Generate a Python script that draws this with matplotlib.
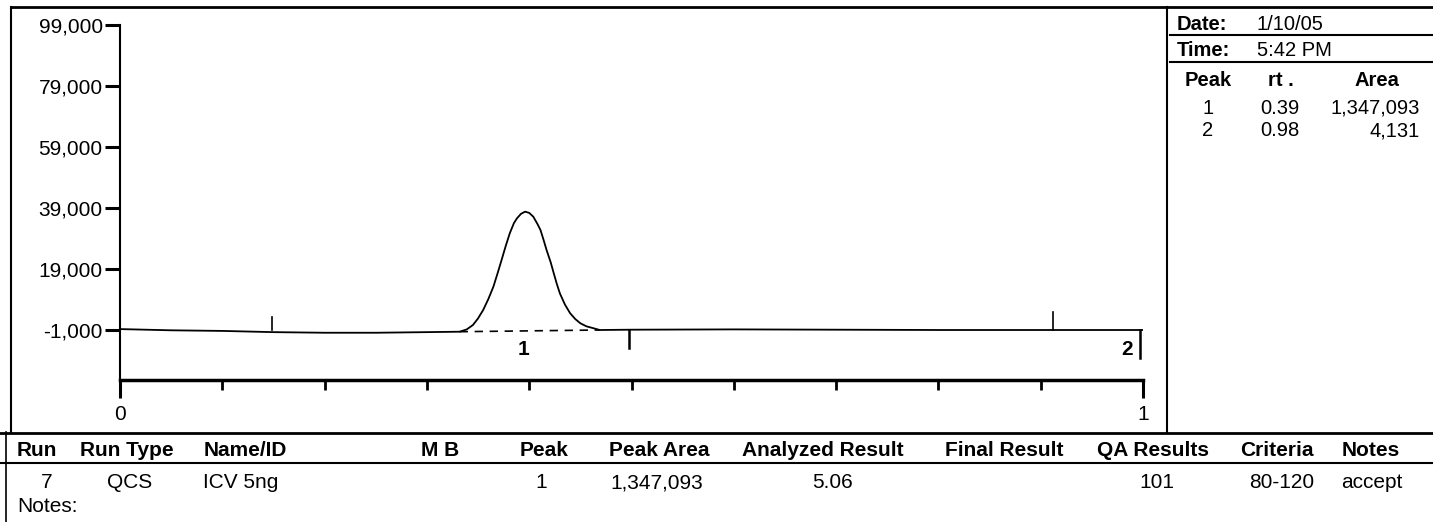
import matplotlib.pyplot as plt
from matplotlib.lines import Line2D

plt.rcParams['font.family'] = ['Liberation Sans', 'DejaVu Sans']

W, H = 1433, 522

# chromatogram trace (retention time, signal)
rt_min = [0.0, 0.05, 0.1, 0.15, 0.2, 0.25, 0.3, 0.332, 0.339, 0.345, 0.350, 0.355,
          0.360, 0.365, 0.369, 0.373, 0.377, 0.381, 0.385, 0.388, 0.392, 0.396,
          0.400, 0.404, 0.408, 0.411, 0.414, 0.417, 0.421, 0.424, 0.427, 0.430,
          0.435, 0.440, 0.445, 0.450, 0.456, 0.463, 0.469, 0.5, 0.6, 0.7, 0.8,
          0.9, 1.0]
signal = [-700, -1100, -1300, -1700, -1900, -1900, -1700, -1560, -800, 640, 2800, 5560,
          9100, 13200, 17500, 21950, 26500, 30700, 34000, 35600, 37100, 37800,
          37400, 36150, 33800, 31800, 28600, 25200, 21200, 17600, 14100, 11000,
          7300, 4500, 2600, 1200, 200, -440, -1000, -900, -800, -900, -1000,
          -1000, -1000]

# integration baseline under peak 1
base_x = [0.332, 0.469]
base_y = [-1560, -1000]

# peak start/end marks (position, end of the mark)
mark_x = [0.149, 0.498, 0.912, 0.997]
mark_end = [3300, -6900, 4900, -10200]

peak_no = [1, 2]
peak_rt = [0.39, 0.98]
peak_area = [1347093, 4131]
peak_label_x = [0.394, 0.990]

yticks = [-1000, 19000, 39000, 59000, 79000, 99000]

date_str = "1/10/05"
time_str = "5:42 PM"

headers = ["Run", "Run Type", "Name/ID", "M B", "Peak", "Peak Area",
           "Analyzed Result", "Final Result", "QA Results", "Criteria", "Notes"]
row = ["7", "QCS", "ICV 5ng", "", "1", "1,347,093", "5.06", "", "101", "80-120", "accept"]

fig = plt.figure(figsize=(W / 100, H / 100), dpi=100)


def fx(px):
    return px / W


def fy(py):
    return 1 - py / H


# main chromatogram axes: x 120..1143 px, y 25..380 px
ax = fig.add_axes([fx(120), fy(380), fx(1143) - fx(120), fy(25) - fy(380)])
ax.plot(rt_min, signal, color='black', lw=1.3)
ax.plot(base_x, base_y, color='black', lw=1.2, ls=(0, (5, 4)))
for mx, me in zip(mark_x, mark_end):
    ax.plot([mx, mx], [-1000, me], color='black', lw=1.2 if me > 0 else 1.8)
for lab, lx in zip(peak_no, peak_label_x):
    ax.text(lx, -4200, str(lab), ha='center' if lab == 1 else 'right', va='top',
            fontsize=15, fontweight='bold')

ax.set_xlim(0, 1)
ax.set_ylim(-17393, 99000)
ax.set_yticks(yticks)
ax.set_yticklabels([f"{v:,}" for v in yticks], fontsize=15)
ax.set_xticks([0, 1])
ax.set_xticklabels(["0", "1"], fontsize=15)
ax.set_xticks([i / 10 for i in range(1, 10)], minor=True)
ax.tick_params(axis='y', direction='out', length=11, width=2.2, pad=1.5)
ax.tick_params(axis='x', which='major', direction='out', length=13, width=2.2, pad=5)
ax.tick_params(axis='x', which='minor', direction='out', length=7, width=2)
for s in ['top', 'right']:
    ax.spines[s].set_visible(False)
ax.spines['left'].set_linewidth(1.5)
ax.spines['bottom'].set_linewidth(2.5)
ax.patch.set_alpha(0)


def hline(y, x0, x1, lw=1.5):
    fig.add_artist(Line2D([fx(x0), fx(x1)], [fy(y), fy(y)], color='black', lw=lw))


def vline(x, y0, y1, lw=1.5):
    fig.add_artist(Line2D([fx(x), fx(x)], [fy(y0), fy(y1)], color='black', lw=lw))


# page frame
hline(7, 11, 1433, 2)
vline(11, 7, 432, 1.5)
vline(6, 432, 522, 1.2)
vline(1167, 7, 432, 1.5)
hline(433, 0, 1433, 2)
hline(463, 0, 1433, 1.5)
hline(35, 1170, 1433, 1.5)
hline(62, 1170, 1433, 1.5)

# right info panel
fig.text(fx(1177), fy(25), "Date:", fontsize=14.5, fontweight='bold', va='center')
fig.text(fx(1257), fy(25), date_str, fontsize=14.5, va='center')
fig.text(fx(1177), fy(51), "Time:", fontsize=14.5, fontweight='bold', va='center')
fig.text(fx(1257), fy(51), time_str, fontsize=14.5, va='center')
fig.text(fx(1208), fy(81), "Peak", fontsize=14.5, fontweight='bold', va='center', ha='center')
fig.text(fx(1281), fy(81), "rt .", fontsize=14.5, fontweight='bold', va='center', ha='center')
fig.text(fx(1377), fy(81), "Area", fontsize=14.5, fontweight='bold', va='center', ha='center')
for i, (p, r, a) in enumerate(zip(peak_no, peak_rt, peak_area)):
    y = 108 + i * 23
    fig.text(fx(1208), fy(y), str(p), fontsize=14.5, va='center', ha='center')
    fig.text(fx(1280), fy(y), f"{r:.2f}", fontsize=14.5, va='center', ha='center')
    fig.text(fx(1420), fy(y), f"{a:,}", fontsize=14.5, va='center', ha='right')

# bottom table
head_x = [37, 127, 245, 440, 544, 659, 823, 1004, 1153, 1277, 1371]
for t, x in zip(headers, head_x):
    fig.text(fx(x), fy(450), t, fontsize=15, fontweight='bold', va='center', ha='center')

row_x = [47, 130, 203, 440, 541, 657, 833, 1004, 1174, 1282, 1341]
row_ha = ['center', 'center', 'left', 'center', 'center', 'center', 'center',
          'center', 'right', 'center', 'left']
for t, x, ha in zip(row, row_x, row_ha):
    fig.text(fx(x), fy(483), t, fontsize=15, va='center', ha=ha)
fig.text(fx(17), fy(507), "Notes:", fontsize=15, va='center', ha='left')

fig.savefig("out.png", dpi=100)
